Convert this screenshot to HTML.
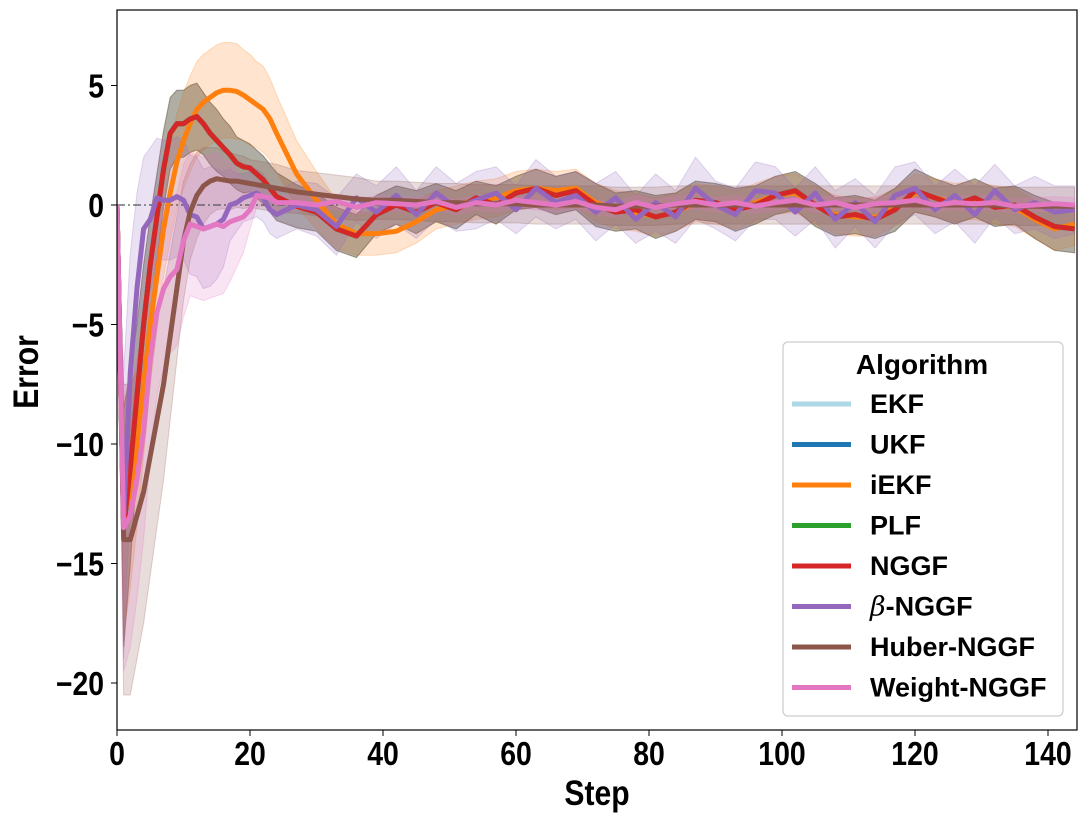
<!DOCTYPE html>
<html><head><meta charset="utf-8"><style>
body{margin:0;background:#fff;}
svg{display:block;font-family:"Liberation Sans",Arial,sans-serif;}
</style></head><body>
<svg id="chart" width="1087" height="821" viewBox="0 0 1087 821">
<defs><clipPath id="clip"><rect x="117" y="10" width="960" height="720"/></clipPath></defs>
<g id="bands" clip-path="url(#clip)"></g>
<line x1="117" x2="1077" y1="205" y2="205" stroke="#555" stroke-width="1.2" stroke-dasharray="8,3,2,3"/>
<g id="lines" clip-path="url(#clip)"></g>
<rect x="117" y="10" width="960" height="720" fill="none" stroke="#000" stroke-width="1.2"/>
<g id="axes"></g>
<text class="cond" x="597" y="805" text-anchor="middle" font-size="35" font-weight="bold">Step</text>
<text class="cond" transform="translate(38,372) rotate(-90)" text-anchor="middle" font-size="35" font-weight="bold">Error</text>
<g id="legend">
<rect x="783" y="342" width="280" height="374" rx="5" fill="#fff" fill-opacity="0.85" stroke="#ccc" stroke-width="1.2"/>
<text x="922" y="374" text-anchor="middle" font-size="28" font-weight="bold">Algorithm</text>
</g>
</svg>
<script>
const steps=[0,1,2,3,4,5,6,7,8,9,10,11,12,13,14,15,16,17,18,19,20,21,22,23,24,27,30,33,36,39,42,45,48,51,54,57,60,63,66,69,72,75,78,81,84,87,90,93,96,99,102,105,108,111,114,117,120,123,126,129,132,135,138,141,144];
const nggf=[0,-13.5,-11,-8,-5,-2.5,-0.5,1.5,3.0,3.4,3.4,3.6,3.7,3.4,3.0,2.7,2.4,2.1,1.75,1.6,1.55,1.3,1.05,0.7,0.35,-0.05,-0.3,-1.0,-1.3,-0.4,0.0,-0.3,0.1,-0.2,0.3,0.0,0.5,0.7,0.4,0.6,0.0,-0.3,-0.2,-0.5,-0.3,0.2,0.1,-0.2,0.0,0.4,0.6,0.0,-0.5,-0.4,-0.6,-0.2,0.6,0.3,0.0,0.3,-0.1,0.0,-0.5,-0.9,-1.0];
const ekf=[0,-13.5,-11,-8,-5,-2.5,-0.5,1.5,3.0,3.4,3.4,3.6,3.7,3.4,3.0,2.7,2.4,2.1,1.75,1.6,1.55,1.3,1.05,0.7,0.35,-0.05,-0.3,-1.0,-1.3,-0.4,0.0,-0.3,0.1,-0.2,0.3,0.0,0.5,0.7,0.4,0.6,0.0,-0.3,-0.2,-0.5,-0.3,0.2,0.1,-0.2,0.0,0.4,0.6,0.0,-0.5,-0.4,-0.6,-0.2,0.6,0.3,0.0,0.3,-0.1,0.0,-0.5,-0.9,-1.0];
const ukf=[0,-13.5,-11,-8,-5,-2.5,-0.5,1.5,3.0,3.4,3.4,3.6,3.7,3.4,3.0,2.7,2.4,2.1,1.75,1.6,1.55,1.3,1.05,0.7,0.35,-0.05,-0.3,-1.0,-1.3,-0.4,0.0,-0.3,0.1,-0.2,0.3,0.0,0.5,0.7,0.4,0.6,0.0,-0.3,-0.2,-0.5,-0.3,0.2,0.1,-0.2,0.0,0.4,0.6,0.0,-0.5,-0.4,-0.6,-0.2,0.6,0.3,0.0,0.3,-0.1,0.0,-0.5,-0.9,-1.0];
const plf=[0,-13.5,-11,-8,-5,-2.5,-0.5,1.5,3.0,3.4,3.4,3.6,3.7,3.4,3.0,2.7,2.4,2.1,1.75,1.6,1.55,1.3,1.05,0.7,0.35,-0.05,-0.3,-1.0,-1.3,-0.4,0.0,-0.3,0.1,-0.2,0.3,0.0,0.5,0.7,0.4,0.6,0.0,-0.3,-0.2,-0.5,-0.3,0.2,0.1,-0.2,0.0,0.4,0.6,0.0,-0.5,-0.4,-0.6,-0.2,0.6,0.3,0.0,0.3,-0.1,0.0,-0.5,-0.9,-1.0];
const iekf=[0,-13,-12,-10,-7.5,-5,-3,-1,0.5,1.8,2.7,3.4,4.0,4.3,4.5,4.7,4.8,4.8,4.75,4.6,4.4,4.2,4.0,3.6,3.0,1.3,0.2,-0.8,-1.2,-1.2,-1.1,-0.7,-0.2,0.0,0.2,0.3,0.6,0.7,0.6,0.7,0.1,-0.2,-0.3,-0.5,-0.3,0.1,0.0,-0.2,0.1,0.4,0.5,0.0,-0.4,-0.5,-0.5,-0.1,0.5,0.3,0.1,0.2,0.0,-0.1,-0.6,-1.0,-0.8];
const betaNggf=[0,-13,-7,-3.5,-1.0,-0.6,0.3,0.2,0.2,0.35,0.2,-0.4,-0.5,-1.0,-0.9,-0.8,-0.6,0.0,0.1,0.3,0.4,0.5,0.3,-0.2,-0.4,0.0,-0.2,-0.9,0.3,-0.3,0.4,-0.4,0.5,-0.1,0.2,0.5,-0.2,0.7,0.1,0.4,-0.3,0.3,-0.6,0.1,-0.5,0.7,0.0,-0.4,0.6,0.5,-0.3,0.5,-0.6,0.1,-0.7,0.4,0.7,-0.2,0.4,-0.4,0.6,-0.2,0.1,-0.3,-0.2];
const huberNggf=[0,-14,-14,-13,-12,-10.5,-9,-7.5,-5.5,-3.5,-1.5,-0.3,0.4,0.8,1.0,1.1,1.05,1.0,1.0,0.95,0.9,0.85,0.8,0.75,0.7,0.55,0.45,0.35,0.25,0.2,0.2,0.15,0.1,0.1,0.05,0.05,0.05,0,0,0,0,-0.05,-0.05,-0.05,0,0,0,0,0,0,0,0,0,0,0,0,0,0,0,0,0,-0.05,-0.05,-0.05,-0.05];
const weightNggf=[0,-13.5,-13,-11.5,-9.5,-6.5,-4.5,-3.5,-3.0,-2.7,-1.5,-0.8,-0.9,-1.0,-0.9,-0.8,-0.9,-0.7,-0.6,-0.5,-0.2,0.4,0.35,0.3,0.1,0.1,0.0,0.15,-0.1,0.1,0.05,0.0,0.15,-0.1,0.1,0.0,0.2,0.1,0.0,0.15,-0.1,-0.2,0.1,-0.1,0.05,0.15,0.0,0.1,-0.05,0.1,0.2,0.0,0.1,-0.1,0.05,0.1,0.2,0.0,0.1,0.05,0.1,-0.05,0.0,0.05,0.0];
const sdNggf=[0,5,4,3,2.5,2,1.8,1.6,1.5,1.4,1.4,1.4,1.4,1.3,1.3,1.3,1.2,1.2,1.1,1.1,1.0,1.0,1.0,1.0,1.0,0.9,0.8,0.9,0.9,0.8,0.8,0.9,0.8,0.8,0.7,0.8,0.7,0.8,0.8,0.8,0.9,0.8,0.8,0.9,0.8,0.8,0.8,0.9,0.8,0.8,0.8,0.9,0.8,0.8,0.8,0.9,0.9,0.8,0.8,0.8,0.8,0.8,0.9,1.0,1.0];
const sdIekf=[0,5,4,3.5,3,2.5,2.2,2,2,2,2,2,2,2,2,2,2,2,2,1.9,1.9,1.8,1.8,1.7,1.6,1.4,1.2,1.0,0.9,0.9,0.9,0.9,0.8,0.8,0.8,0.8,0.8,0.8,0.8,0.8,0.8,0.8,0.8,0.8,0.8,0.8,0.8,0.8,0.8,0.8,0.8,0.8,0.8,0.8,0.8,0.8,0.8,0.8,0.8,0.8,0.8,0.8,0.8,0.9,0.9];
const sdBeta=[0,6,5,4,3,3,2.5,2.5,2.5,2.5,2.5,2.5,2.5,2.5,2.5,2.3,2.0,1.5,1.2,1.0,1.0,1.0,1.0,1.0,1.0,1.0,1.1,1.2,1.0,1.1,1.2,1.0,1.1,1.0,1.2,1.1,1.0,1.2,1.1,1.0,1.2,1.1,1.0,1.2,1.1,1.3,1.0,1.1,1.2,1.1,1.0,1.1,1.2,1.0,1.1,1.2,1.1,1.0,1.1,1.2,1.1,1.0,1.1,1.1,1.0];
const sdHuber=[0,6.5,6.5,6,5.5,5,4.5,4,3.5,3,2.5,2,1.8,1.6,1.4,1.3,1.2,1.2,1.1,1.1,1.0,1.0,1.0,1.0,1.0,0.9,0.9,0.9,0.9,0.8,0.8,0.8,0.8,0.8,0.8,0.8,0.8,0.8,0.8,0.8,0.8,0.8,0.8,0.8,0.8,0.8,0.8,0.8,0.8,0.8,0.8,0.8,0.8,0.8,0.8,0.8,0.8,0.8,0.8,0.8,0.8,0.8,0.8,0.8,0.8];
const sdWeight=[0,6,5.5,5,4.5,4,3.5,3.3,3.2,3.2,3.2,3,3,3,3,3,2.8,2.5,2,1.5,0.8,0.5,0.4,0.4,0.3,0.3,0.3,0.3,0.3,0.3,0.3,0.3,0.3,0.3,0.3,0.3,0.3,0.3,0.3,0.3,0.3,0.3,0.3,0.3,0.3,0.3,0.3,0.3,0.3,0.3,0.3,0.3,0.3,0.3,0.3,0.3,0.3,0.3,0.3,0.3,0.3,0.3,0.3,0.3,0.3];
const seriesNames=["EKF","UKF","iEKF","PLF","NGGF","β-NGGF","Huber-NGGF","Weight-NGGF"];
const xTicks=[0,20,40,60,80,100,120,140];
const yTicks=[5,0,-5,-10,-15,-20];

const NS="http://www.w3.org/2000/svg";
const X0=117,PXS=6.65,Y0=205,PYU=23.9;
function sx(v){return X0+v*PXS;}
function sy(v){return Y0-v*PYU;}
const series=[
 {name:seriesNames[0],vals:ekf,sd:sdNggf,color:"#add8e6",slug:"ekf"},
 {name:seriesNames[1],vals:ukf,sd:sdNggf,color:"#1f77b4",slug:"ukf"},
 {name:seriesNames[2],vals:iekf,sd:sdIekf,color:"#ff7f0e",slug:"iekf"},
 {name:seriesNames[3],vals:plf,sd:sdNggf,color:"#2ca02c",slug:"plf"},
 {name:seriesNames[4],vals:nggf,sd:sdNggf,color:"#d62728",slug:"nggf"},
 {name:seriesNames[5],vals:betaNggf,sd:sdBeta,color:"#9467bd",slug:"beta-nggf"},
 {name:seriesNames[6],vals:huberNggf,sd:sdHuber,color:"#8c564b",slug:"huber-nggf"},
 {name:seriesNames[7],vals:weightNggf,sd:sdWeight,color:"#e377c2",slug:"weight-nggf"}
];
const bands=document.getElementById('bands'),lines=document.getElementById('lines');
series.forEach(s=>{
 let up=steps.map((t,i)=>sx(t)+","+sy(s.vals[i]+s.sd[i]));
 let lo=steps.map((t,i)=>sx(t)+","+sy(s.vals[i]-s.sd[i])).reverse();
 const p=document.createElementNS(NS,'polygon');
 p.setAttribute('points',up.concat(lo).join(' '));
 p.setAttribute('fill',s.color);p.setAttribute('fill-opacity','0.2');
 p.setAttribute('stroke',s.color);p.setAttribute('stroke-opacity','0.25');
 
 
 bands.appendChild(p);
});
series.forEach(s=>{
 const l=document.createElementNS(NS,'polyline');
 l.setAttribute('points',steps.map((t,i)=>sx(t)+","+sy(s.vals[i])).join(' '));
 l.setAttribute('fill','none');l.setAttribute('stroke',s.color);
 l.setAttribute('stroke-width','5');l.setAttribute('stroke-linejoin','round');
 
 
 lines.appendChild(l);
});
const axes=document.getElementById('axes');
xTicks.forEach(v=>{
 const t=document.createElementNS(NS,'line');
 t.setAttribute('x1',sx(v));t.setAttribute('x2',sx(v));t.setAttribute('y1',730);t.setAttribute('y2',736);t.setAttribute('stroke','#000');
 
 
 axes.appendChild(t);
 const tx=document.createElementNS(NS,'text');
 tx.setAttribute('x',sx(v));tx.setAttribute('y',765);tx.setAttribute('text-anchor','middle');
 tx.setAttribute('class','cond');
 tx.setAttribute('font-size','33');tx.setAttribute('font-weight','bold');tx.textContent=v;
 
 
 axes.appendChild(tx);
});
yTicks.forEach(v=>{
 const t=document.createElementNS(NS,'line');
 t.setAttribute('x1',111);t.setAttribute('x2',117);t.setAttribute('y1',sy(v));t.setAttribute('y2',sy(v));t.setAttribute('stroke','#000');
 
 
 axes.appendChild(t);
 const tx=document.createElementNS(NS,'text');
 tx.setAttribute('x',104);tx.setAttribute('y',sy(v)+12);tx.setAttribute('text-anchor','end');
 tx.setAttribute('class','cond');
 tx.setAttribute('font-size','33');tx.setAttribute('font-weight','bold');tx.textContent=(v<0?"−"+(-v):v);
 
 
 axes.appendChild(tx);
});
const leg=document.getElementById('legend');
series.forEach((s,i)=>{
 const y=404+i*40.5;
 const g=document.createElementNS(NS,'g');
 
 
 const l=document.createElementNS(NS,'line');
 l.setAttribute('x1',792);l.setAttribute('x2',851);l.setAttribute('y1',y);l.setAttribute('y2',y);
 l.setAttribute('stroke',s.color);l.setAttribute('stroke-width','5');
 g.appendChild(l);
 const t=document.createElementNS(NS,'text');
 t.setAttribute('x',870);t.setAttribute('y',y+9);t.setAttribute('font-size','27');t.setAttribute('font-weight','bold');
 if(s.name.startsWith('β')){
  const b=document.createElementNS(NS,'tspan');b.setAttribute('font-style','italic');b.setAttribute('font-weight','normal');b.setAttribute('font-family','"DejaVu Serif",serif');b.textContent='β';
  t.appendChild(b);t.appendChild(document.createTextNode(s.name.slice(1)));
 } else t.textContent=s.name;
 g.appendChild(t);
 leg.appendChild(g);
});
document.querySelectorAll('text.cond').forEach(t=>{
 const L=t.getComputedTextLength();
 t.setAttribute('textLength',(L*0.86).toFixed(1));
 t.setAttribute('lengthAdjust','spacingAndGlyphs');
});
</script>
</body></html>
